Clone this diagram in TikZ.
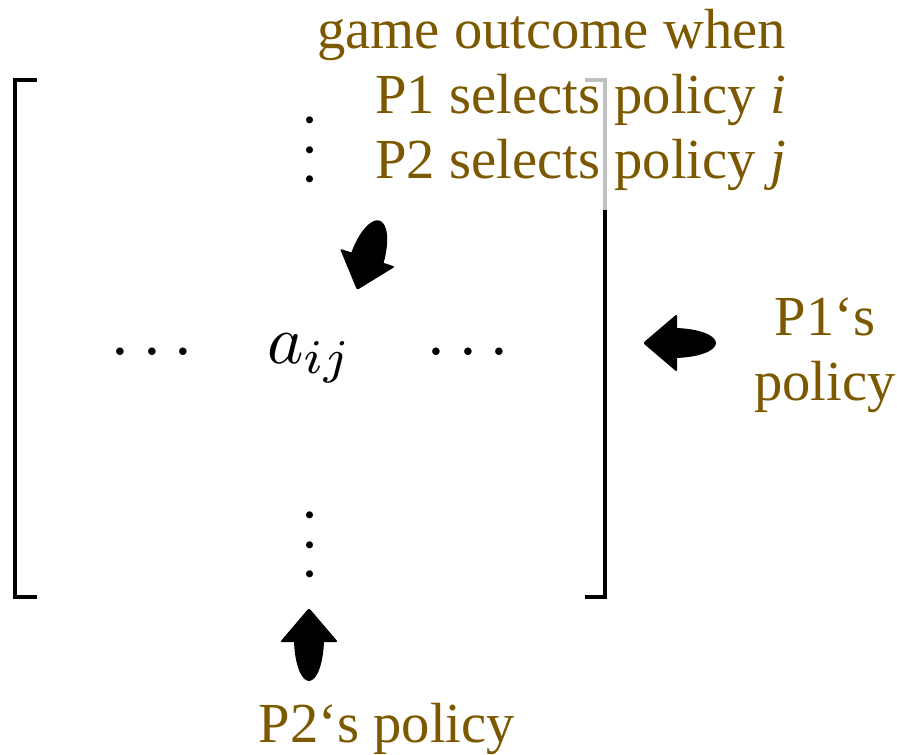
\documentclass[tikz,border=0pt]{standalone}
\usepackage{fontspec}
\setmainfont{Liberation Serif}
\definecolor{labelbrown}{RGB}{124,88,0}
\definecolor{bracketgrey}{RGB}{192,192,192}
\tikzset{
  label text/.style={text=labelbrown, inner sep=0pt, font=\fontsize{56.6}{65}\selectfont},
  hdots/.style={inner sep=0pt, anchor=base, scale=7.1},
  vdotsnode/.style={inner sep=0pt, anchor=base, rotate=90, scale=6.6},
  bracket/.style={line width=4.5pt, line join=miter, line cap=butt},
  % fat arrow pointing along +x, tip at the origin; argument = half width of the tail
  fatarrow/.pic={
    \fill[rounded corners=2pt] (0,0) -- (-34,29) -- (-34,-29) -- cycle;
    \fill (-30,#1) arc[start angle=90, end angle=270, x radius=43, y radius=#1] -- cycle;
  }
}
\begin{document}
\begin{tikzpicture}[x=1pt, y=-1pt]
\useasboundingbox (0,0) rectangle (897,755);

% matrix brackets
\draw[bracket] (37,80) -- (15,80) -- (15,597) -- (37,597);
\draw[bracket, bracketgrey] (585,80) -- (605,80) -- (605,212);
\draw[bracket] (605,210) -- (605,597) -- (585,597);

% matrix entries
\node[vdotsnode] (vtop) at (326.5,150) {\(\cdots\)};
\node[vdotsnode] (vbot) at (326.5,545) {\(\cdots\)};
\node[hdots] (hleft) at (152,369.75) {\(\cdots\)};
\node[hdots] (hright) at (468,369.75) {\(\cdots\)};
\node[inner sep=0pt, anchor=base west, scale=6.9] (aij) at (266,363) {\(a_{ij}\)};

% annotations
\node[label text, anchor=base east] (out1) at (786,48) {game outcome when};
\node[label text, anchor=base east] (out2) at (786,113) {P1 selects policy \textit{i}};
\node[label text, anchor=base east] (out3) at (786,178) {P2 selects policy \textit{j}};
\node[label text, anchor=base] (p1a) at (825,335) {P1‘s};
\node[label text, anchor=base] (p1b) at (825,400) {policy};
\node[label text, anchor=base] (p2) at (387,742) {P2‘s policy};

% pointing arrows
\pic[rotate=252] at (357,290) {fatarrow=17};
\pic[rotate=180] at (643,343) {fatarrow=15};
\pic[rotate=90] at (309,608) {fatarrow=15};
\end{tikzpicture}
\end{document}
